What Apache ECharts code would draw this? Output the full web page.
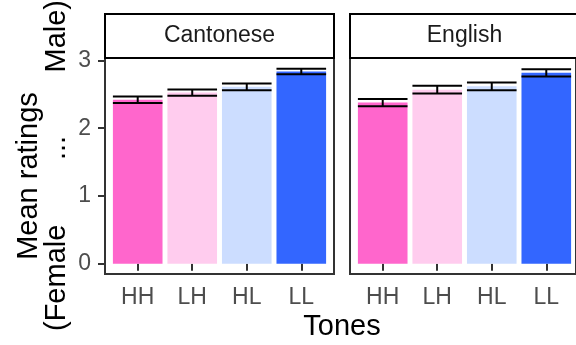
<!DOCTYPE html>
<html>
<head>
<meta charset="utf-8">
<script src="https://cdn.jsdelivr.net/npm/echarts@6/dist/echarts.min.js"></script>
<style>
html,body{margin:0;padding:0;background:#fff;}
#chart{width:576px;height:345px;}
</style>
</head>
<body>
<div id="chart"></div>
<script>
// ---- data ----
var categories = ['HH', 'LH', 'HL', 'LL'];
var panels = ['Cantonese', 'English'];
var cantoneseMean = [2.42, 2.525, 2.61, 2.835];
var cantoneseSE = [0.049, 0.046, 0.049, 0.040];
var englishMean = [2.378, 2.568, 2.617, 2.816];
var englishSE = [0.054, 0.056, 0.056, 0.054];
var yTicks = [0, 1, 2, 3];
var xTitle = 'Tones';
var yTitleLine1 = 'Mean ratings';
var yTitleLine2 = ['(Female', '...', 'Male)'];

// ---- styles ----
var FONT = "'Liberation Sans', Arial, sans-serif";
var toneColors = ['#FF66CC', '#FFCCEE', '#CCDDFF', '#3366FF'];
var YMIN = -0.15, YMAX = 3.035;
var panelLeft = [105, 350], panelW = 229, panelTop = 58, panelH = 216;
var inset = panelW * 0.1 / 4.2 * 1; // 0.1 band of discrete expansion (0.6 vs 0.5)

var chart = echarts.init(document.getElementById('chart'), null, {renderer: 'canvas'});

var grids = [], xAxes = [], yAxes = [], series = [], graphics = [];
var means = [cantoneseMean, englishMean];
var ses = [cantoneseSE, englishSE];

panels.forEach(function (name, p) {
  // frame grid
  grids.push({left: panelLeft[p], top: panelTop, width: panelW, height: panelH,
    show: true, borderColor: '#333333', borderWidth: 2, backgroundColor: '#ffffff', containLabel: false});
  // data grid (inset to reproduce 0.6 band expansion)
  var band = panelW / 4.2;
  grids.push({left: panelLeft[p] + band * 0.1, top: panelTop, width: band * 4, height: panelH, containLabel: false});
  var fg = p * 2, dg = p * 2 + 1;
  xAxes.push({gridIndex: fg, type: 'value', show: false, min: 0, max: 1});
  yAxes.push({gridIndex: fg, type: 'value', min: YMIN, max: YMAX, show: p === 0,
    axisLine: {show: false},
    splitLine: {show: false},
    axisTick: {show: p === 0, length: 7, lineStyle: {color: '#333333', width: 2}, customValues: yTicks},
    axisLabel: {show: p === 0, customValues: yTicks, margin: 14, color: '#4D4D4D', fontSize: 23, fontFamily: FONT}
  });
  xAxes.push({gridIndex: dg, type: 'category', data: categories, boundaryGap: true,
    axisLine: {show: false},
    axisTick: {show: true, alignWithLabel: true, length: 7, lineStyle: {color: '#333333', width: 2}},
    axisLabel: {margin: 12, color: '#4D4D4D', fontSize: 23, fontFamily: FONT},
    splitLine: {show: false}
  });
  yAxes.push({gridIndex: dg, type: 'value', min: YMIN, max: YMAX, show: false, splitLine: {show: false}});

  series.push({
    type: 'bar', xAxisIndex: p * 2 + 1, yAxisIndex: p * 2 + 1,
    barWidth: '91%', silent: true,
    data: means[p].map(function (v, i) { return {value: v, itemStyle: {color: toneColors[i]}}; }),
    z: 2
  });
  series.push({
    type: 'custom', xAxisIndex: p * 2 + 1, yAxisIndex: p * 2 + 1, z: 3, silent: true,
    data: means[p].map(function (v, i) { return [i, v, ses[p][i]]; }),
    renderItem: function (params, api) {
      var x = api.value(0), m = api.value(1), e = api.value(2);
      var hi = api.coord([x, m + e]), lo = api.coord([x, m - e]);
      var w = api.size([1, 0])[0] * 0.91;
      var st = {stroke: '#000000', lineWidth: 2, fill: null};
      return {type: 'group', children: [
        {type: 'line', shape: {x1: hi[0], y1: hi[1], x2: lo[0], y2: lo[1]}, style: st},
        {type: 'line', shape: {x1: hi[0] - w / 2, y1: hi[1], x2: hi[0] + w / 2, y2: hi[1]}, style: st},
        {type: 'line', shape: {x1: lo[0] - w / 2, y1: lo[1], x2: lo[0] + w / 2, y2: lo[1]}, style: st}
      ]};
    }
  });

  // facet strip
  graphics.push({type: 'rect', shape: {x: panelLeft[p], y: 14, width: panelW, height: 44},
    style: {fill: '#ffffff', stroke: '#000000', lineWidth: 2}, z: 10});
  graphics.push({type: 'text', x: panelLeft[p] + panelW / 2, y: 36,
    style: {text: name, fill: '#1A1A1A', font: '23px ' + FONT, align: 'center', verticalAlign: 'middle'}, z: 11});
});

// axis titles
graphics.push({type: 'text', x: 342, y: 327,
  style: {text: xTitle, fill: '#000000', font: '29px ' + FONT, align: 'center', verticalAlign: 'middle'}});
graphics.push({type: 'text', x: 29, y: 176, rotation: Math.PI / 2,
  style: {text: yTitleLine1, fill: '#000000', font: '29px ' + FONT, align: 'center', verticalAlign: 'middle'}});
graphics.push({type: 'text', x: 57, y: 331, rotation: Math.PI / 2,
  style: {text: yTitleLine2[0], fill: '#000000', font: '29px ' + FONT, align: 'left', verticalAlign: 'middle'}});
graphics.push({type: 'text', x: 57, y: 148, rotation: Math.PI / 2,
  style: {text: yTitleLine2[1], fill: '#000000', font: '29px ' + FONT, align: 'center', verticalAlign: 'middle'}});
graphics.push({type: 'text', x: 57, y: 0, rotation: Math.PI / 2,
  style: {text: yTitleLine2[2], fill: '#000000', font: '29px ' + FONT, align: 'right', verticalAlign: 'middle'}});

chart.setOption({
  animation: false,
  backgroundColor: '#ffffff',
  grid: grids,
  xAxis: xAxes,
  yAxis: yAxes,
  series: series,
  graphic: graphics
});
</script>
</body>
</html>
